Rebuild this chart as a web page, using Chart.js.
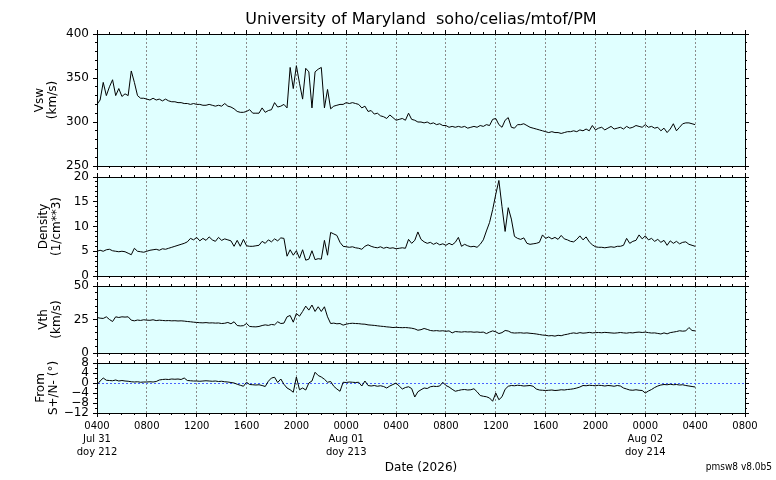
<!DOCTYPE html>
<html>
<head>
<meta charset="utf-8">
<script src="https://cdn.jsdelivr.net/npm/chart.js@4.4.1/dist/chart.umd.min.js"></script>
<style>
  body { margin: 0; background: #fff; width: 776px; height: 480px; overflow: hidden; }
  canvas { position: absolute; left: 0; top: 0; }
</style>
</head>
<body>
<canvas id="c1" width="776" height="480"></canvas>
<canvas id="c2" width="776" height="480"></canvas>
<canvas id="c3" width="776" height="480"></canvas>
<canvas id="c4" width="776" height="480"></canvas>
<script>
// hours since 2026-07-31 0400 UT, one sample every 15 minutes
const sampleStepHours = 0.25;
const hourRange = [0, 52];

const hourLabels = ['0400', '0800', '1200', '1600', '2000', '0000', '0400',
                    '0800', '1200', '1600', '2000', '0000', '0400', '0800'];
const dateLabels = { 0: ['Jul 31', 'doy 212'], 5: ['Aug 01', 'doy 213'], 11: ['Aug 02', 'doy 214'] };

const vsw = [
  320,325,345,330,340,348,330,338,329,332,330,358,345,330,327,327,
  326,325,327,325,326,324,326,324,323,323,322,322,321,321,320,321,
  320,320,319,319,320,319,318,319,318,321,318,317,315,312,311,311,
  312,314,310,310,310,316,311,313,314,322,317,318,320,316,362,338,
  364,344,326,361,357,316,357,360,362,316,337,315,318,319,320,320,
  322,321,322,321,320,316,318,312,313,309,310,307,306,304,308,305,
  302,303,304,302,310,303,302,300,300,299,300,298,299,297,298,296,
  296,294,295,294,295,294,295,293,294,295,294,296,295,297,296,303,
  304,297,294,302,305,294,293,297,297,298,296,294,293,292,291,290,
  289,288,289,288,288,287,288,289,289,290,289,291,290,292,290,296,
  291,293,294,291,293,295,292,293,294,292,295,293,294,296,295,294,
  297,294,295,293,294,290,293,288,292,298,290,294,298,299,299,298,
  297
];

const density = [
  5.0,5.2,5.0,5.3,5.4,5.1,5.0,4.9,5.0,4.9,4.6,4.3,5.6,5.0,4.9,4.8,
  5.0,5.2,5.3,5.4,5.2,5.5,5.4,5.6,5.8,6.0,6.2,6.4,6.6,6.9,7.6,7.3,
  7.8,7.1,7.6,7.2,7.9,7.3,7.0,7.8,7.2,7.5,7.3,7.1,6.0,7.2,6.0,7.4,
  6.1,6.0,6.0,6.1,6.2,7.0,6.6,7.3,6.9,7.5,7.1,7.7,7.6,4.0,5.3,4.2,
  5.1,3.6,5.3,3.2,3.4,5.1,3.3,3.5,3.4,7.2,4.2,8.8,8.5,8.2,6.8,6.0,
  5.9,5.8,5.9,5.7,5.6,5.4,6.0,6.3,6.0,5.8,5.7,5.9,5.6,5.8,5.6,5.7,
  5.5,5.6,5.7,5.6,7.4,6.6,7.2,8.9,7.4,6.9,6.6,6.8,6.4,6.7,6.3,6.5,
  6.2,6.6,6.3,6.8,7.8,6.0,6.4,6.1,5.9,6.0,5.8,6.4,7.3,9.1,10.8,13.4,
  16.5,19.3,14.0,9.0,13.8,11.5,8.0,7.6,7.4,7.7,6.6,6.4,6.5,6.6,6.8,8.3,
  7.6,7.9,7.5,7.8,7.4,8.2,7.5,7.3,7.0,6.9,7.4,8.1,7.3,7.9,6.9,6.3,
  5.9,5.8,5.8,5.7,5.8,5.9,5.8,6.0,6.0,6.2,7.6,6.6,7.0,7.2,8.3,7.5,
  8.1,7.3,7.6,7.0,7.4,6.8,7.2,6.2,7.1,6.6,7.0,6.5,6.8,6.9,6.4,6.2,
  6.0
];

const vth = [
  26.5,26.0,25.8,27.0,25.0,23.5,27.0,26.5,27.0,26.8,27.0,24.5,24.0,24.6,24.3,24.8,
  24.5,24.4,24.8,24.2,24.5,24.3,24.1,24.2,24.0,24.1,23.9,24.0,23.8,23.5,23.3,23.0,
  22.8,22.6,22.5,22.7,22.4,22.5,22.3,22.4,22.0,22.2,22.8,21.8,23.3,20.5,20.2,20.4,
  22.0,19.8,19.6,19.5,19.8,20.5,21.0,20.6,21.3,21.0,23.3,22.0,22.3,27.0,28.0,23.0,
  29.5,27.5,31.0,35.0,32.0,35.8,31.0,34.5,31.0,34.5,27.0,22.0,22.3,21.8,22.0,20.8,
  21.5,22.0,22.2,22.0,21.9,21.6,21.5,21.0,20.8,20.6,20.3,20.0,19.8,19.5,19.3,19.0,
  19.2,19.0,18.9,19.0,18.8,18.5,18.0,17.0,17.4,18.3,17.6,16.8,16.5,16.7,16.4,16.6,
  16.2,16.5,15.0,16.0,15.8,15.6,15.9,15.7,15.8,15.5,15.7,15.4,15.6,14.5,15.6,16.5,
  15.8,14.5,15.2,16.8,16.4,15.2,14.9,15.0,15.1,14.8,15.0,14.7,14.5,14.2,13.8,13.4,
  13.2,12.8,13.0,12.6,13.2,12.9,13.6,14.0,14.6,15.0,14.6,15.2,14.8,15.0,15.4,15.0,
  15.2,15.3,15.1,15.4,15.2,15.0,14.8,15.0,15.3,15.0,14.8,15.2,15.0,15.4,15.6,15.3,
  15.6,15.2,14.9,15.0,14.6,14.2,15.0,14.3,15.2,15.6,16.0,16.6,16.3,16.5,19.0,16.8,
  16.5
];

const flowAngle = [
  -0.7,0.8,2.0,1.1,1.0,0.9,1.2,0.8,1.0,0.8,0.7,0.5,0.4,0.5,0.3,0.4,
  0.4,0.5,0.4,0.6,1.2,1.4,1.5,1.4,1.6,1.5,1.6,1.4,2.0,1.0,0.9,0.8,
  0.8,0.7,0.8,0.9,0.8,0.7,0.8,0.6,0.7,0.5,0.4,0.2,0.0,-0.5,-0.9,-1.3,
  0.3,-0.6,-0.7,-0.8,-0.7,-1.0,-1.4,0.7,2.0,2.3,0.2,1.6,-0.5,-2.0,-2.7,-3.7,
  2.4,-2.7,-2.0,-2.8,0.0,0.8,4.3,3.0,2.4,1.5,0.3,0.6,-1.3,-2.4,-3.3,0.3,
  0.2,0.4,0.3,0.2,0.3,-1.2,0.8,-1.0,-1.2,-1.0,-1.3,-1.1,-1.4,-2.0,-1.2,-0.6,
  0.0,-1.2,-2.4,-1.8,-1.5,-2.2,-5.6,-3.5,-2.7,-2.0,-2.2,-1.5,-1.3,-1.4,-1.2,0.3,
  -1.0,-1.6,-2.5,-3.3,-3.0,-2.7,-2.6,-2.8,-2.7,-2.3,-3.5,-5.0,-5.3,-5.5,-6.0,-7.3,
  -4.0,-6.7,-5.5,-2.5,-1.3,-1.0,-1.1,-0.9,-1.0,-1.2,-1.1,-1.0,-1.3,-2.4,-2.8,-2.9,
  -3.0,-2.9,-2.8,-3.0,-2.9,-2.7,-2.8,-2.6,-2.5,-2.3,-2.0,-1.6,-1.0,-1.1,-0.9,-1.0,
  -1.1,-0.9,-1.0,-1.2,-1.0,-1.1,-1.3,-1.0,-1.2,-2.0,-2.4,-2.8,-2.9,-2.7,-2.9,-3.0,
  -4.0,-3.2,-2.6,-1.8,-1.2,-0.8,-0.6,-0.7,-0.5,-0.7,-0.6,-0.8,-0.7,-1.0,-1.2,-1.4,
  -1.6
];

const panels = [
  { canvas: 'c1', values: vsw, min: 250, max: 400, major: 50, minor: 10,
    label: ['Vsw', '(km/s)'], top: 34, bottom: 166, labelPad: 33 },
  { canvas: 'c2', values: density, min: 0, max: 20, major: 5, minor: 1,
    label: ['Density', '(1/cm**3)'], top: 177, bottom: 276, labelPad: 37 },
  { canvas: 'c3', values: vth, min: 0, max: 50, major: 25, minor: 5,
    label: ['Vth', '(km/s)'], top: 286, bottom: 353, labelPad: 37 },
  { canvas: 'c4', values: flowAngle, min: -12, max: 8, major: 4, minor: 2,
    label: ['From', 'S+/N- (\u00b0)'], top: 363, bottom: 413, labelPad: 34, zeroLine: true }
];

const PLOT_LEFT = 97, PLOT_RIGHT = 745, CANVAS_H = 480;
const BG = '#e0ffff';
const GRID = '#8c8c8c';
const ZERO_LINE = '#4a64ff';
const CLEAR = 'rgba(0,0,0,0)';

Chart.defaults.font.family = '"DejaVu Sans", sans-serif';
Chart.defaults.color = '#000';

const chartAreaBackground = {
  id: 'chart_area_background',
  beforeDraw: (chart, args, options) => {
    const { ctx, chartArea } = chart;
    ctx.save();
    ctx.fillStyle = options.color || BG;
    ctx.fillRect(chartArea.left, chartArea.top, chartArea.width, chartArea.height);
    ctx.restore();
  }
};

const versionStamp = {
  id: 'version_stamp',
  afterDraw: (chart, args, options) => {
    if (!options.text) return;
    const { ctx } = chart;
    ctx.save();
    ctx.font = '10px "DejaVu Sans Condensed", "DejaVu Sans", sans-serif';
    ctx.fillStyle = '#000';
    ctx.textAlign = 'right';
    ctx.textBaseline = 'middle';
    ctx.fillText(options.text, 772, 467);
    ctx.restore();
  }
};

const setHeight = h => scale => { scale.height = h; };
const setWidth = w => scale => { scale.width = w; };

function xAxis(position, step, tickLength, weight, extra) {
  return Object.assign({
    type: 'linear', axis: 'x', position, weight,
    min: hourRange[0], max: hourRange[1],
    afterFit: setHeight(0),
    border: { display: false },
    ticks: { display: false, stepSize: step, autoSkip: false },
    grid: { drawOnChartArea: false, tickLength, tickColor: '#000', tickWidth: 1 }
  }, extra);
}

function yAxis(p, position, step, tickLength, weight, extra) {
  return Object.assign({
    type: 'linear', axis: 'y', position, weight,
    min: p.min, max: p.max,
    afterFit: setWidth(0),
    border: { display: false },
    ticks: { display: false, stepSize: step, autoSkip: false },
    grid: { drawOnChartArea: false, tickLength, tickColor: '#000', tickWidth: 1 }
  }, extra);
}

function buildScales(p, isLast) {
  const edgeless = ctx => (ctx.tick.value <= hourRange[0] || ctx.tick.value >= hourRange[1]) ? CLEAR : GRID;
  return {
    x: xAxis('bottom', 4, 4, 1, {
      afterFit: setHeight(isLast ? CANVAS_H - p.bottom : 0),
      border: { display: true, color: '#000', width: 1, dash: [2, 2] },
      ticks: {
        display: isLast, stepSize: 4, autoSkip: false, maxRotation: 0, padding: 3,
        font: { size: 10, lineHeight: 1.3 },
        callback: (value, index) => dateLabels[index] ? [hourLabels[index], ...dateLabels[index]] : hourLabels[index]
      },
      grid: { drawOnChartArea: true, color: edgeless, lineWidth: 1, tickLength: 4, tickColor: '#000', tickWidth: 1 },
      title: { display: isLast, text: 'Date (2026)', font: { size: 12 }, padding: { top: 0, bottom: 5 } }
    }),
    xMinor: xAxis('bottom', 1, 2, 0),
    xTop: xAxis('top', 4, 4, 1, { border: { display: true, color: '#000', width: 1 } }),
    xTopMinor: xAxis('top', 1, 2, 0),
    y: yAxis(p, 'left', p.major, 4, 1, {
      afterFit: setWidth(PLOT_LEFT),
      border: { display: true, color: '#000', width: 1, dash: [2, 2] },
      ticks: {
        display: true, stepSize: p.major, autoSkip: false, padding: 4, font: { size: 12 },
        callback: value => String(value).replace('-', '\u2212')
      },
      grid: {
        drawOnChartArea: !!p.zeroLine,
        color: ctx => ctx.tick.value === 0 ? ZERO_LINE : CLEAR,
        tickLength: 4, tickColor: '#000', tickWidth: 1
      },
      title: { display: true, text: p.label, font: { size: 12, lineHeight: 1.1 }, padding: { top: p.labelPad, bottom: 0 } }
    }),
    yMinor: yAxis(p, 'left', p.minor, 2, 0),
    yRight: yAxis(p, 'right', p.major, 4, 1, {
      afterFit: setWidth(776 - PLOT_RIGHT),
      border: { display: true, color: '#000', width: 1 }
    }),
    yRightMinor: yAxis(p, 'right', p.minor, 2, 0)
  };
}

panels.forEach((p, n) => {
  const isFirst = n === 0, isLast = n === panels.length - 1;
  const points = p.values.map((v, i) => ({ x: i * sampleStepHours, y: v }));
  new Chart(document.getElementById(p.canvas), {
    type: 'line',
    data: {
      datasets: [{
        data: points, xAxisID: 'x', yAxisID: 'y',
        borderColor: '#000', borderWidth: 1, pointRadius: 0, tension: 0, fill: false
      }]
    },
    options: {
      responsive: false,
      animation: false,
      events: [],
      layout: {
        padding: {
          left: 0, right: 0,
          top: isFirst ? 0 : p.top,
          bottom: isLast ? 0 : CANVAS_H - p.bottom
        }
      },
      scales: buildScales(p, isLast),
      plugins: {
        legend: { display: false },
        tooltip: { enabled: false },
        title: {
          display: isFirst, fullSize: false,
          text: 'University of Maryland  soho/celias/mtof/PM',
          font: { size: 16, weight: 'normal', lineHeight: 1.2 },
          padding: { top: 10, bottom: p.top - 10 - 19.2 }
        },
        chart_area_background: { color: BG },
        version_stamp: { text: isLast ? 'pmsw8 v8.0b5' : '' }
      }
    },
    plugins: [chartAreaBackground, versionStamp]
  });
});
</script>
</body>
</html>
